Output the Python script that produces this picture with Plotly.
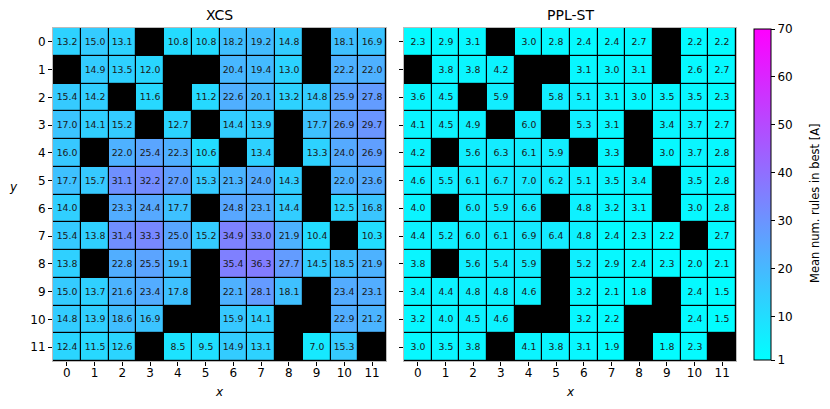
import plotly.graph_objects as go

N = None
cells = list(range(12))
tick_labels = [str(i) for i in cells]

# rows are y = 0..11 (top to bottom), columns x = 0..11; None = obstacle
xcs = [
    [13.2, 15.0, 13.1, N, 10.8, 10.8, 18.2, 19.2, 14.8, N, 18.1, 16.9],
    [N, 14.9, 13.5, 12.0, N, N, 20.4, 19.4, 13.0, N, 22.2, 22.0],
    [15.4, 14.2, N, 11.6, N, 11.2, 22.6, 20.1, 13.2, 14.8, 25.9, 27.8],
    [17.0, 14.1, 15.2, N, 12.7, N, 14.4, 13.9, N, 17.7, 26.9, 29.7],
    [16.0, N, 22.0, 25.4, 22.3, 10.6, N, 13.4, N, 13.3, 24.0, 26.9],
    [17.7, 15.7, 31.1, 32.2, 27.0, 15.3, 21.3, 24.0, 14.3, N, 22.0, 23.6],
    [14.0, N, 23.3, 24.4, 17.7, N, 24.8, 23.1, 14.4, N, 12.5, 16.8],
    [15.4, 13.8, 31.4, 33.3, 25.0, 15.2, 34.9, 33.0, 21.9, 10.4, N, 10.3],
    [13.8, N, 22.8, 25.5, 19.1, N, 35.4, 36.3, 27.7, 14.5, 18.5, 21.9],
    [15.0, 13.7, 21.6, 23.4, 17.8, N, 22.1, 28.1, 18.1, N, 23.4, 23.1],
    [14.8, 13.9, 18.6, 16.9, N, N, 15.9, 14.1, N, N, 22.9, 21.2],
    [12.4, 11.5, 12.6, N, 8.5, 9.5, 14.9, 13.1, N, 7.0, 15.3, N],
]

ppl_st = [
    [2.3, 2.9, 3.1, N, 3.0, 2.8, 2.4, 2.4, 2.7, N, 2.2, 2.2],
    [N, 3.8, 3.8, 4.2, N, N, 3.1, 3.0, 3.1, N, 2.6, 2.7],
    [3.6, 4.5, N, 5.9, N, 5.8, 5.1, 3.1, 3.0, 3.5, 3.5, 2.3],
    [4.1, 4.5, 4.9, N, 6.0, N, 5.3, 3.1, N, 3.4, 3.7, 2.7],
    [4.2, N, 5.6, 6.3, 6.1, 5.9, N, 3.3, N, 3.0, 3.7, 2.8],
    [4.6, 5.5, 6.1, 6.7, 7.0, 6.2, 5.1, 3.5, 3.4, N, 3.5, 2.8],
    [4.0, N, 6.0, 5.9, 6.6, N, 4.8, 3.2, 3.1, N, 3.0, 2.8],
    [4.4, 5.2, 6.0, 6.1, 6.9, 6.4, 4.8, 2.4, 2.3, 2.2, N, 2.7],
    [3.8, N, 5.6, 5.4, 5.9, N, 5.2, 2.9, 2.4, 2.3, 2.0, 2.1],
    [3.4, 4.4, 4.8, 4.8, 4.6, N, 3.2, 2.1, 1.8, N, 2.4, 1.5],
    [3.2, 4.0, 4.5, 4.6, N, N, 3.2, 2.2, N, N, 2.4, 1.5],
    [3.0, 3.5, 3.8, N, 4.1, 3.8, 3.1, 1.9, N, 1.8, 2.3, N],
]

cbar_ticks = [1, 10, 20, 30, 40, 50, 60, 70]

W, H = 830, 409
OFF = 8  # the page body adds an 8px margin, so place things 8px up/left


def px(v):
    return (v - OFF) / W


def py(v):
    return 1 - (v - OFF) / H


def labels(z):
    return [["" if v is None else f"{v:.1f}" for v in row] for row in z]


font = "DejaVu Sans, Liberation Sans, sans-serif"

fig = go.Figure()
for z, xa, ya in [(xcs, "x", "y"), (ppl_st, "x2", "y2")]:
    fig.add_trace(go.Heatmap(
        z=z, x=cells, y=cells, text=labels(z), texttemplate="%{text}",
        textfont=dict(size=9.3, color="#1a1a1a", family=font),
        coloraxis="coloraxis", xgap=1.2, ygap=1.2,
        xaxis=xa, yaxis=ya, hoverongaps=False,
    ))

axis_common = dict(
    tickmode="array", tickvals=cells, ticktext=tick_labels,
    ticks="outside", ticklen=4, tickcolor="black", tickwidth=1,
    showgrid=False, zeroline=False, showline=True, linecolor="#bbbbbb",
    mirror=True, automargin=False,
    tickfont=dict(size=12, color="black", family=font),
)
x_common = {**axis_common, "ticklabelstandoff": -3}

ydom = [py(361), py(28)]
fig.update_layout(
    width=W, height=H,
    margin=dict(l=0, r=0, t=0, b=0),
    paper_bgcolor="white", plot_bgcolor="black",
    font=dict(family=font, color="black"),
    xaxis=dict(domain=[px(53), px(386)], range=[-0.5, 11.5], anchor="y", **x_common),
    yaxis=dict(domain=ydom, range=[11.5, -0.5], anchor="x", **axis_common),
    xaxis2=dict(domain=[px(404), px(736)], range=[-0.5, 11.5], anchor="y2", **x_common),
    yaxis2=dict(domain=ydom, range=[11.5, -0.5], anchor="x2",
                **{**axis_common, "showticklabels": False}),
    coloraxis=dict(
        colorscale=[[0, "rgb(0,255,255)"], [1, "rgb(255,0,255)"]],
        cmin=1, cmax=70,
        colorbar=dict(
            x=px(754), xanchor="left", xpad=0,
            y=py(194.5), yanchor="middle", ypad=0,
            len=331 / H, lenmode="fraction", thickness=17,
            outlinecolor="black", outlinewidth=1,
            tickmode="array", tickvals=cbar_ticks,
            ticks="outside", ticklen=4, tickcolor="black",
            tickfont=dict(size=12, color="black", family=font),
        ),
    ),
)

notes = [
    ("XCS", (53 + 386) / 2, 15, 14, 0),
    ("PPL-ST", (404 + 736) / 2, 15, 14, 0),
    ("<i>x</i>", (53 + 386) / 2, 392, 12, 0),
    ("<i>x</i>", (404 + 736) / 2, 392, 12, 0),
    ("<i>y</i>", 13, 187, 12, 0),
    ("Mean num. rules in best [A]", 815, 203, 11.5, -90),
]
for text, x, y, size, angle in notes:
    fig.add_annotation(text=text, x=px(x), y=py(y), xref="paper", yref="paper",
                       xanchor="center", yanchor="middle", textangle=angle,
                       showarrow=False, font=dict(size=size))

fig.write_html("out.html")
